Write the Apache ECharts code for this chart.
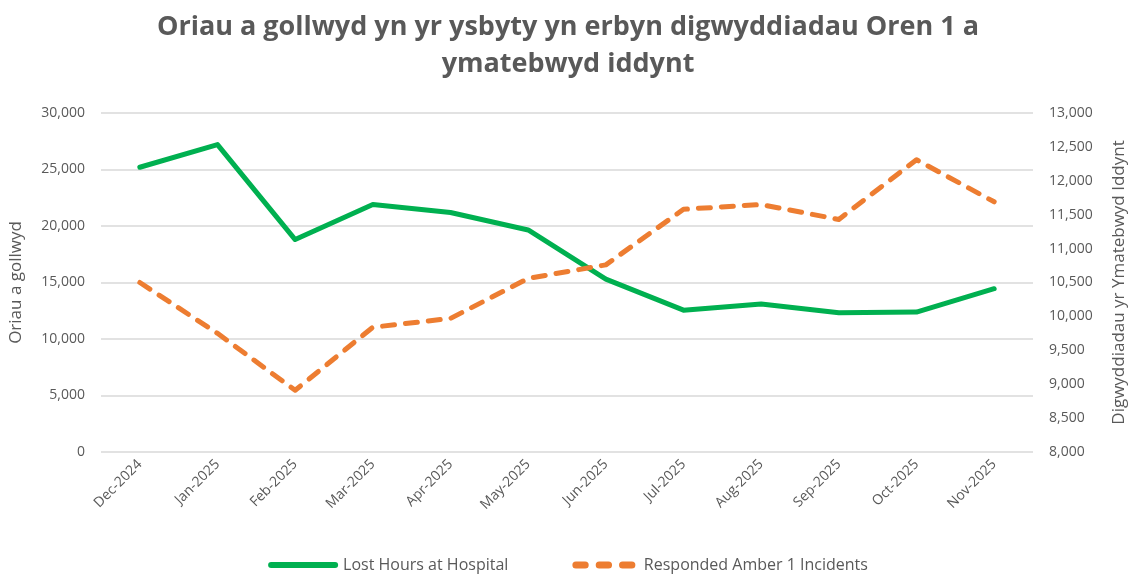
<!DOCTYPE html>
<html>
<head>
<meta charset="utf-8">
<script src="https://cdn.jsdelivr.net/npm/echarts@6/dist/echarts.min.js"></script>
</head>
<body style="margin:0;background:#fff;">
<div id="main" style="width:1136px;height:578px;"></div>
<script>
var months = ['Dec-2024', 'Jan-2025', 'Feb-2025', 'Mar-2025', 'Apr-2025', 'May-2025',
    'Jun-2025', 'Jul-2025', 'Aug-2025', 'Sep-2025', 'Oct-2025', 'Nov-2025'];
var lostHours = [25200, 27200, 18800, 21900, 21200, 19650, 15300, 12550, 13100, 12330, 12380, 14450];
var amberIncidents = [10500, 9750, 8910, 9840, 9970, 10560, 10760, 11580, 11650, 11430, 12310, 11690];

var grey = '#595959';
var myChart = echarts.init(document.getElementById('main'));

function fmt(v) { return v.toLocaleString('en-GB'); }

var option = {
    backgroundColor: '#fff',
    textStyle: {fontFamily: '"Open Sans", sans-serif'},
    title: {
        text: 'Oriau a gollwyd yn yr ysbyty yn erbyn digwyddiadau Oren 1 a\nymatebwyd iddynt',
        left: 'center',
        top: 4,
        textStyle: {
            color: grey,
            fontSize: 27,
            fontWeight: 'bold',
            lineHeight: 37,
            fontFamily: '"Open Sans", sans-serif'
        }
    },
    legend: {
        bottom: 0,
        left: 'center',
        itemWidth: 70,
        itemHeight: 7,
        itemGap: 64,
        textStyle: {color: grey, fontSize: 16},
        data: [
            {name: 'Lost Hours at Hospital', icon: 'path://M3,0H67A3,3 0 0 1 67,6H3A3,3 0 0 1 3,0Z', itemStyle: {color: '#00B050'}},
            {name: 'Responded Amber 1 Incidents',
             icon: 'path://M3,0H11A3,3 0 0 1 11,6H3A3,3 0 0 1 3,0ZM23,0H31A3,3 0 0 1 31,6H23A3,3 0 0 1 23,0ZM43,0H51A3,3 0 0 1 51,6H43A3,3 0 0 1 43,0Z',
             itemStyle: {color: '#ED7D31'}, itemWidth: 54}
        ]
    },
    grid: {left: 100, right: 99, top: 113, bottom: 126},
    xAxis: {
        type: 'category',
        data: months,
        boundaryGap: true,
        axisLine: {show: false},
        axisTick: {show: false},
        axisLabel: {color: grey, fontSize: 14, rotate: 45, margin: 10}
    },
    yAxis: [
        {
            type: 'value',
            min: 0, max: 30000, interval: 5000,
            name: 'Oriau a gollwyd',
            nameLocation: 'middle',
            nameGap: 76,
            nameTextStyle: {color: grey, fontSize: 17},
            axisLabel: {color: grey, fontSize: 14, margin: 16, formatter: fmt},
            splitLine: {lineStyle: {color: '#d9d9d9', width: 1.5}}
        },
        {
            type: 'value',
            min: 8000, max: 13000, interval: 500,
            name: 'Digwyddiadau yr Ymatebwyd Iddynt',
            nameLocation: 'middle',
            nameGap: 78,
            nameRotate: 90,
            nameTextStyle: {color: grey, fontSize: 17},
            axisLabel: {color: grey, fontSize: 14, margin: 16, formatter: fmt},
            splitLine: {show: false}
        }
    ],
    series: [
        {
            name: 'Lost Hours at Hospital',
            type: 'line',
            yAxisIndex: 0,
            data: lostHours,
            symbol: 'none',
            color: '#00B050',
            lineStyle: {width: 5, color: '#00B050', cap: 'round', join: 'round'}
        },
        {
            name: 'Responded Amber 1 Incidents',
            type: 'line',
            yAxisIndex: 1,
            data: amberIncidents,
            symbol: 'none',
            color: '#ED7D31',
            lineStyle: {width: 5, color: '#ED7D31', type: [12, 11], cap: 'round', join: 'round'}
        }
    ]
};
myChart.setOption(option);
</script>
</body>
</html>
